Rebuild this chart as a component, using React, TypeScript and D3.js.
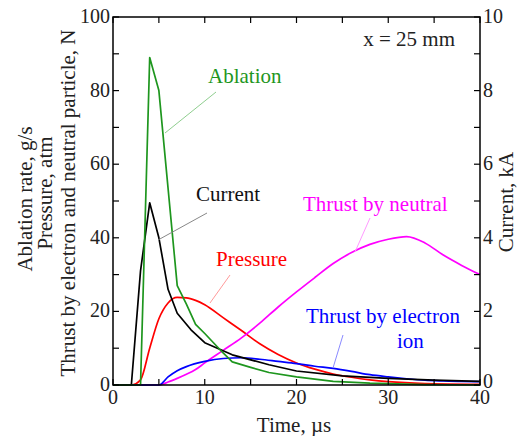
import React from "react";
import * as d3 from "d3";

// ---- data (time in µs) ----
const ablationT = [0, 3, 4, 5, 7, 8, 9, 10, 11.7, 13, 15, 17, 20, 24, 28, 34, 40];
const ablationV = [0, 0, 89, 80, 27, 22, 16.5, 14, 9.5, 6.3, 4.8, 3.4, 2.2, 1.0, 0.5, 0.1, 0];

const currentT = [0, 2, 3, 4, 5, 6, 7, 8.5, 10, 13, 17, 20, 25, 30, 35, 40];
const currentKA = [0, 0, 3.1, 4.95, 4.0, 2.6, 1.95, 1.5, 1.15, 0.82, 0.55, 0.38, 0.25, 0.18, 0.13, 0.1];

const pressureT = [0, 2, 3, 4, 5, 6, 7, 8, 9, 10, 12, 14, 16, 18, 20, 22, 24, 26, 28, 30, 34, 40];
const pressureV = [0, 0, 1.4, 10, 18, 22.3, 23.8, 23.7, 23, 21.8, 18.3, 14.8, 11.2, 8.3, 6, 4.3, 3.0, 2.1, 1.4, 0.9, 0.4, 0.2];

const neutralT = [0, 5, 6, 7, 8, 9, 10, 12, 14, 16, 18, 20, 22, 24, 26, 28, 30, 32, 34, 36, 38, 40];
const neutralV = [0, 0, 0.8, 1.8, 2.9, 4.2, 6.0, 9.4, 12.8, 16.8, 21.2, 25.3, 29.2, 33, 36, 38.2, 39.6, 40.3, 38.6, 35.3, 32.5, 30];

const electronT = [0, 5, 6, 7, 8, 10, 12, 14, 16, 18, 20, 22, 24, 26, 28, 30, 32, 34, 36, 38, 40];
const electronV = [0, 0, 2.2, 3.9, 5.0, 6.4, 7.2, 7.4, 7.0, 6.4, 5.8, 5.1, 4.5, 3.7, 2.8, 2.2, 1.7, 1.3, 1.1, 0.95, 0.9];

const xTicks = [0, 10, 20, 30, 40];
const xMinor = [0, 5, 10, 15, 20, 25, 30, 35, 40];
const leftTicks = [0, 20, 40, 60, 80, 100];
const leftMinor = [0, 10, 20, 30, 40, 50, 60, 70, 80, 90, 100];
const rightTicks = [0, 2, 4, 6, 8, 10];
const rightMinor = [0, 1, 2, 3, 4, 5, 6, 7, 8, 9, 10];

const FONT = "Liberation Serif";

type TP = { x?: number; y?: number; size: number; fill?: string; anchor?: string; transform?: string; children: React.ReactNode };
function Txt({ x, y, size, fill = "#222", anchor = "start", transform, children }: TP) {
  return (
    <text x={x} y={y} transform={transform} fill={fill} textAnchor={anchor} fontSize={size} fontFamily={FONT} style={{ fontFamily: FONT }}>
      {children}
    </text>
  );
}

export default function App() {
  const L = 113, R = 480, T = 17, B = 385;
  const x = d3.scaleLinear().domain([0, 40]).range([L, R]);
  const yL = d3.scaleLinear().domain([0, 100]).range([B, T]);
  const yR = d3.scaleLinear().domain([0, 10]).range([B, T]);

  const mk = (ts: number[], vs: number[], ys: d3.ScaleLinear<number, number>, curve: d3.CurveFactory) =>
    d3.line<number>().x((_, i) => x(ts[i])).y((v) => ys(v)).curve(curve)(vs) || "";

  const series = [
    { d: mk(pressureT, pressureV, yL, d3.curveMonotoneX), c: "#ff0000" },
    { d: mk(neutralT, neutralV, yL, d3.curveMonotoneX), c: "#ff00ff" },
    { d: mk(electronT, electronV, yL, d3.curveMonotoneX), c: "#0000ff" },
    { d: mk(currentT, currentKA, yR, d3.curveLinear), c: "#000000" },
    { d: mk(ablationT, ablationV, yL, d3.curveLinear), c: "#1e961e" },
  ];

  const tk = 6;
  return (
    <svg width={519} height={436} style={{ display: "block", position: "absolute", left: 0, top: 0, background: "#fff" }}>
      {series.map((s, i) => (
        <path key={i} d={s.d} fill="none" stroke={s.c} strokeWidth={1.7} strokeLinejoin="round" />
      ))}

      <rect x={L} y={T} width={R - L} height={B - T} fill="none" stroke="#000" strokeWidth={1.5} />
      {xMinor.map((t) => (
        <g key={"x" + t}>
          <line x1={x(t)} x2={x(t)} y1={B} y2={B - tk} stroke="#000" strokeWidth={1.2} />
          <line x1={x(t)} x2={x(t)} y1={T} y2={T + tk} stroke="#000" strokeWidth={1.2} />
        </g>
      ))}
      {leftMinor.map((v) => (
        <line key={"l" + v} x1={L} x2={L + tk} y1={yL(v)} y2={yL(v)} stroke="#000" strokeWidth={1.2} />
      ))}
      {rightMinor.map((v) => (
        <line key={"r" + v} x1={R} x2={R - tk} y1={yR(v)} y2={yR(v)} stroke="#000" strokeWidth={1.2} />
      ))}
      {xTicks.map((t) => (
        <Txt key={"xl" + t} x={x(t)} y={404} size={20} anchor="middle">{t}</Txt>
      ))}
      {leftTicks.map((v) => (
        <Txt key={"ll" + v} x={110} y={yL(v) + 6} size={20} anchor="end">{v}</Txt>
      ))}
      {rightTicks.map((v) => (
        <Txt key={"rl" + v} x={483} y={yR(v) + (v === 0 ? 3 : 6)} size={20}>{v}</Txt>
      ))}

      <Txt x={294} y={432} size={21} anchor="middle">Time, µs</Txt>
      <Txt transform="translate(32,199) rotate(-90)" size={21} anchor="middle">Ablation rate, g/s</Txt>
      <Txt transform="translate(52,193) rotate(-90)" size={21} anchor="middle">Pressure, atm</Txt>
      <Txt transform="translate(75,203) rotate(-90)" size={21} anchor="middle">Thrust by electron and neutral particle, N</Txt>
      <Txt transform="translate(513,202) rotate(-90)" size={21} anchor="middle">Current, kA</Txt>

      <Txt x={455} y={46} size={21} anchor="end">x = 25 mm</Txt>
      <Txt x={208} y={83} size={21} fill="#1e961e">Ablation</Txt>
      <line x1={216} y1={92} x2={165} y2={133} stroke="#8fce8f" strokeWidth={1} />
      <Txt x={196} y={201} size={21} fill="#111">Current</Txt>
      <line x1={207} y1={213} x2={158} y2={240} stroke="#888" strokeWidth={1} />
      <Txt x={216} y={266} size={21} fill="#ff0000">Pressure</Txt>
      <line x1={230} y1={275} x2={210} y2={303} stroke="#ff9a9a" strokeWidth={1} />
      <Txt x={303} y={211} size={21} fill="#ff00ff">Thrust by neutral</Txt>
      <line x1={370} y1={218} x2={355} y2={252} stroke="#ff9aff" strokeWidth={1} />
      <Txt x={306} y={323} size={21} fill="#0000ff">Thrust by electron</Txt>
      <Txt x={397} y={348} size={21} fill="#0000ff">ion</Txt>
      <line x1={343} y1={335} x2={333} y2={368} stroke="#8a8aff" strokeWidth={1} />
    </svg>
  );
}
